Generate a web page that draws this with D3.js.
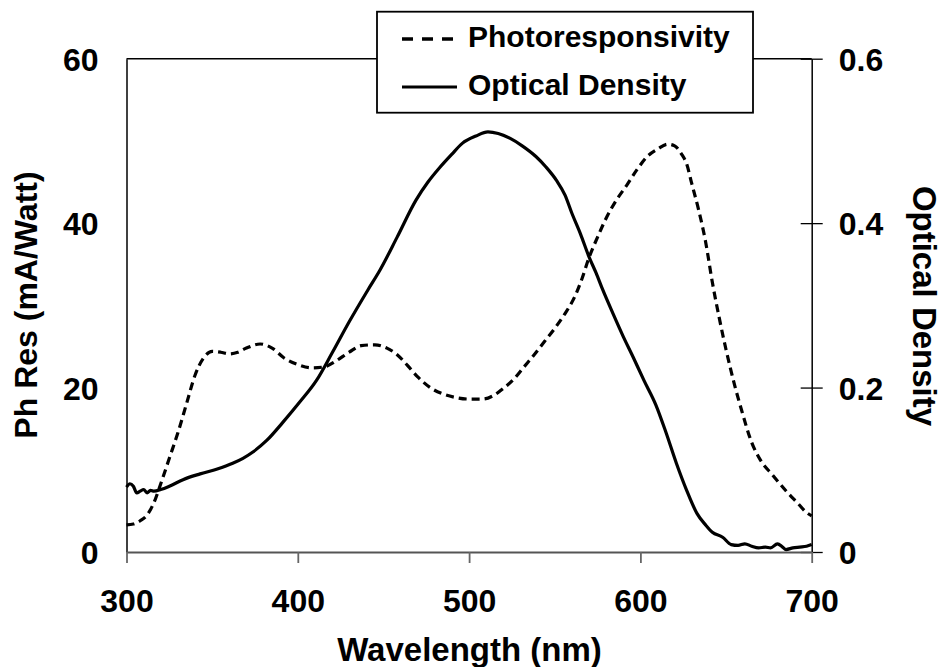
<!DOCTYPE html>
<html><head><meta charset="utf-8">
<script src="https://cdn.jsdelivr.net/npm/d3@7"></script>
<style>body{margin:0;background:#fff}svg{display:block}text{font-family:"Liberation Sans",Arial,sans-serif;font-weight:bold;fill:#000}</style>
</head><body><svg id="c" width="943" height="667"></svg>
<script>
// Photoresponsivity (mA/Watt) vs wavelength (nm)
const phWave = [300,304,308,312,316,320,325,330,335,340,345,350,355,360,365,370,378,385,392,400,408,415,422,430,437,445,452,458,464,470,478,485,492,500,508,514,520,526,532,538,544,550,556,562,566,570,575,580,586,592,598,604,610,616,620,624,627,630,634,638,642,646,650,655,659,665,670,677,686,692,697,700];
const phVal  = [3.3,3.4,3.8,4.5,6.0,8.3,11.4,14.5,18.0,21.5,23.6,24.4,24.3,24.1,24.3,24.8,25.3,24.8,23.6,22.8,22.4,22.5,23.2,24.3,25.1,25.2,24.8,24.0,22.7,21.3,19.9,19.2,18.8,18.6,18.6,19.0,19.9,21.0,22.5,24.0,25.6,27.2,29.0,31.2,33.3,35.8,38.3,40.6,42.8,44.6,46.5,48.1,49.0,49.6,49.4,48.4,47.2,44.8,41.6,37.8,32.8,28.5,24.6,20.3,17.3,13.3,11.2,9.4,7.2,5.9,4.8,4.4];
// Optical density vs wavelength (nm)
const odWave = [300,302,304,306,308,310,312,314,316,320,325,333,343,353,362,368,374,382,391,401,411,420,430,441,448,458,469,476,483,490,496,504,511,517,524,531,539,545,551,556,560,565,570,574,578,584,590,596,602,609,615,621,627,633,638,642,648,653,657,661,665,669,673,676,680,683,685,689,693,697,700];
const odVal  = [.079,.083,.080,.072,.074,.076,.072,.075,.074,.076,.080,.088,.095,.101,.108,.114,.122,.136,.157,.182,.209,.242,.280,.319,.343,.383,.428,.450,.468,.484,.497,.506,.511,.509,.503,.494,.481,.468,.452,.434,.412,.387,.359,.340,.319,.290,.262,.236,.209,.179,.145,.108,.075,.047,.033,.024,.018,.009,.008,.010,.007,.005,.006,.005,.010,.006,.003,.005,.006,.007,.009];
const xTicks = [300,400,500,600,700];
const yLeftTicks = [0,20,40,60];
const yRightTicks = [0,0.2,0.4,0.6];
const legendLabels = ["Photoresponsivity","Optical Density"];

const svg = d3.select("#c");
const L = 126.5, R = 811.7, T = 58.7, B = 552;
const x = d3.scaleLinear().domain([300,700]).range([L,R]);
const yL = d3.scaleLinear().domain([0,60]).range([B,T]);
const yR = d3.scaleLinear().domain([0,0.6]).range([B,T]);

// top frame line
svg.append("line").attr("x1",L).attr("x2",R).attr("y1",T).attr("y2",T).attr("stroke","#000").attr("stroke-width",1.5);

// left axis (no ticks)
const gl = svg.append("g").attr("transform",`translate(${L},0)`)
  .call(d3.axisLeft(yL).tickValues(yLeftTicks).tickSize(0).tickPadding(28).tickFormat(d3.format("d")));
gl.select(".domain").attr("stroke","#000").attr("stroke-width",1.5);
gl.selectAll("text").attr("font-size",32).attr("font-family","Liberation Sans, Arial, sans-serif").attr("font-weight","bold").attr("fill","#000").attr("dy","0.36em");

// right axis (cross ticks)
const gr = svg.append("g").attr("transform",`translate(${R},0)`)
  .call(d3.axisRight(yR).tickValues(yRightTicks).tickSize(0).tickPadding(27).tickFormat(d => d===0 ? "0" : d3.format(".1f")(d)));
gr.select(".domain").attr("stroke","#000").attr("stroke-width",1.5);
gr.selectAll("text").attr("font-size",32).attr("font-family","Liberation Sans, Arial, sans-serif").attr("font-weight","bold").attr("fill","#000").attr("dy","0.36em");
gr.selectAll(".tick").append("line").attr("x1",-11).attr("x2",11).attr("stroke","#000").attr("stroke-width",1.3);

// bottom axis (grey, ticks outward)
const gb = svg.append("g").attr("transform",`translate(0,${B})`)
  .call(d3.axisBottom(x).tickValues(xTicks).tickSizeInner(11).tickSizeOuter(0).tickPadding(26).tickFormat(d3.format("d")));
gb.select(".domain").attr("stroke","#555").attr("stroke-width",2);
gb.selectAll(".tick line").attr("stroke","#666").attr("stroke-width",1.8);
gb.selectAll("text").attr("font-size",32).attr("font-family","Liberation Sans, Arial, sans-serif").attr("font-weight","bold").attr("fill","#000");

// series
const phData = phWave.map((w,i)=>[w,phVal[i]]);
const odData = odWave.map((w,i)=>[w,odVal[i]]);
svg.append("path").datum(phData)
  .attr("d", d3.line().x(d=>x(d[0])).y(d=>yL(d[1])).curve(d3.curveMonotoneX))
  .attr("fill","none").attr("stroke","#000").attr("stroke-width",3.2).attr("stroke-dasharray","8,5");
svg.append("path").datum(odData)
  .attr("d", d3.line().x(d=>x(d[0])).y(d=>yR(d[1])).curve(d3.curveMonotoneX))
  .attr("fill","none").attr("stroke","#000").attr("stroke-width",3.2);

// axis titles
svg.append("text").attr("x",469.5).attr("y",661).attr("text-anchor","middle").attr("font-size",33).text("Wavelength (nm)");
svg.append("text").attr("transform","translate(37,305) rotate(-90)").attr("text-anchor","middle").attr("font-size",32).text("Ph Res (mA/Watt)");
svg.append("text").attr("transform","translate(913,306) rotate(90)").attr("text-anchor","middle").attr("font-size",33).text("Optical Density");

// legend
const lg = svg.append("g");
lg.append("rect").attr("x",377).attr("y",11.7).attr("width",376).attr("height",101).attr("fill","#fff").attr("stroke","#000").attr("stroke-width",1.8);
lg.append("line").attr("x1",402).attr("x2",457).attr("y1",39).attr("y2",39).attr("stroke","#000").attr("stroke-width",3.5).attr("stroke-dasharray","11,9");
lg.append("line").attr("x1",402).attr("x2",457).attr("y1",87).attr("y2",87).attr("stroke","#000").attr("stroke-width",3.2);
lg.append("text").attr("x",468).attr("y",47).attr("font-size",30).text(legendLabels[0]);
lg.append("text").attr("x",468).attr("y",95).attr("font-size",30).text(legendLabels[1]);
</script></body></html>
